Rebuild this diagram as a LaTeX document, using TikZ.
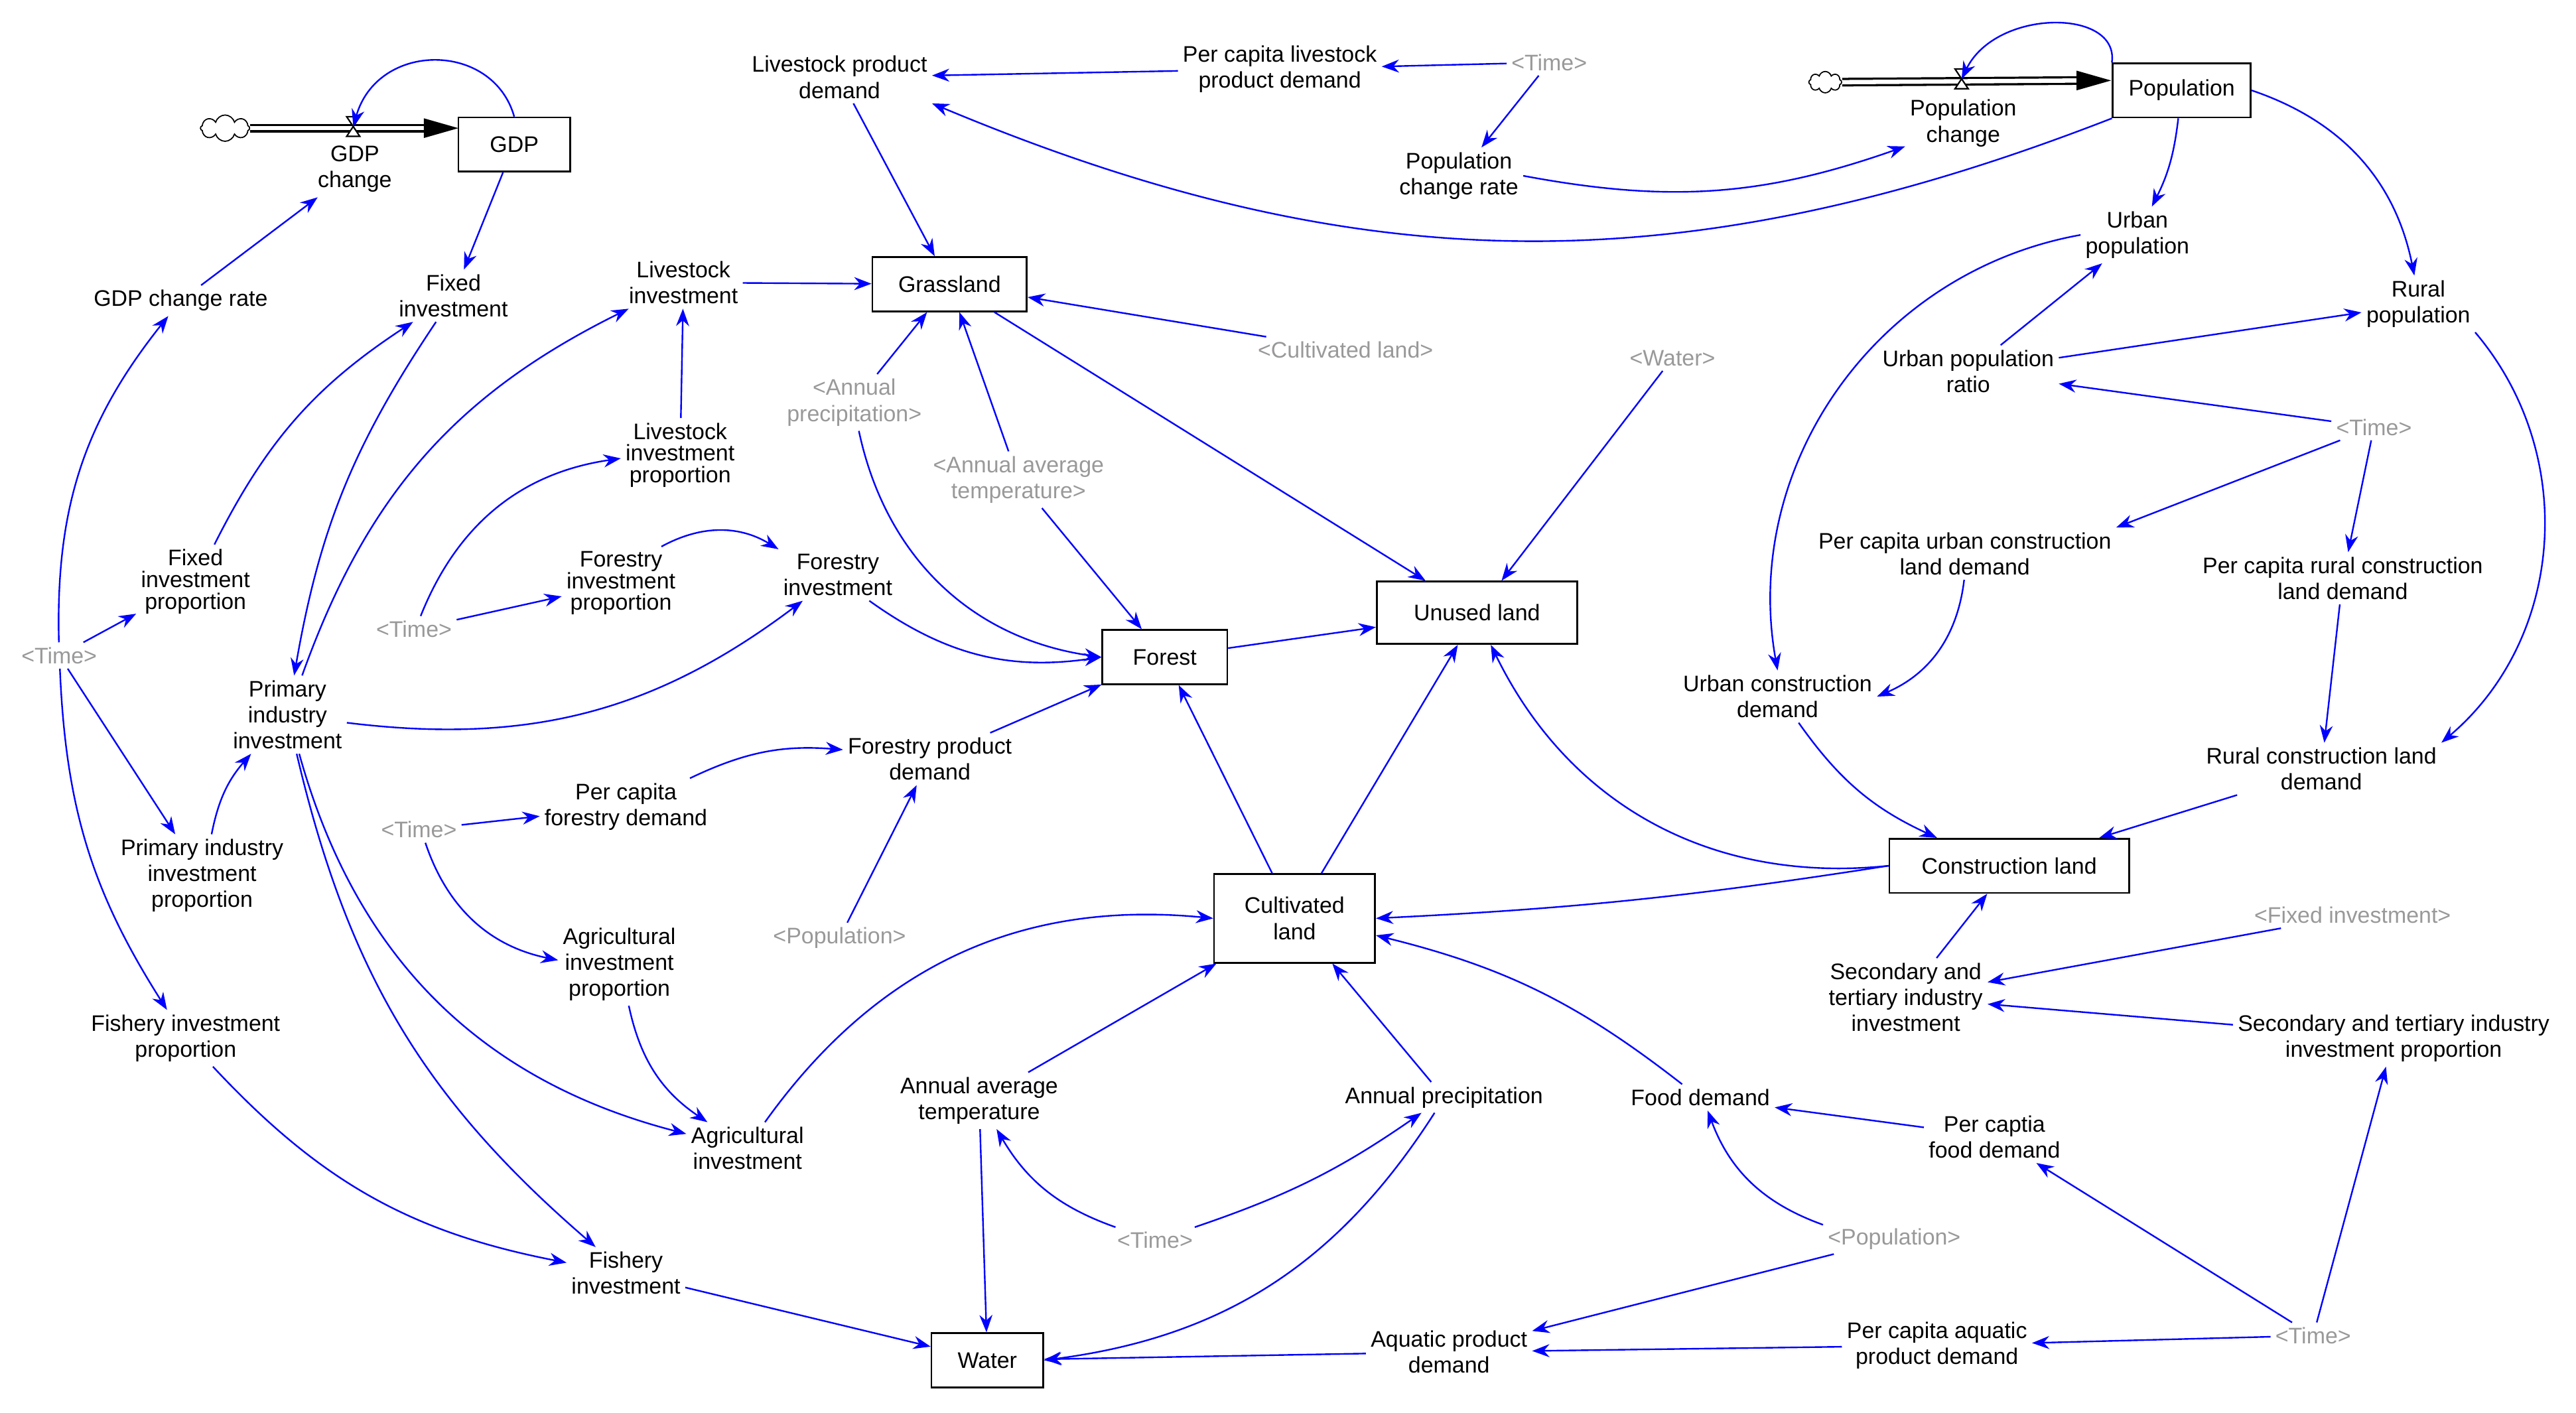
\documentclass[tikz,border=0pt]{standalone}
\usepackage{fontspec}
\setmainfont{Liberation Sans}
\usetikzlibrary{arrows.meta,shapes.symbols}
\begin{document}
\begin{tikzpicture}[x=0.02cm,y=0.02cm,
 v/.style={align=center,inner sep=1.5pt,font=\fontsize{7.8}{9}\selectfont},
 g/.style={v,text=black!40},
 st/.style={draw,line width=0.6pt,minimum height=0.66cm,inner sep=2pt,align=center,font=\fontsize{7.8}{9}\selectfont},
 a/.style={draw=blue,line width=0.55pt,-{Stealth[length=6pt,width=4.5pt]}},
 pipe/.style={line width=3pt,black},
 pipein/.style={line width=1.5pt,white}]
\useasboundingbox (0,0) rectangle (1568,-860);
% stocks
\node[st,minimum width=1.36cm] (gdp) at (313,-88) {GDP};
\node[st,minimum width=1.68cm] (pop) at (1328,-55) {Population};
\node[st,minimum width=1.88cm] (grass) at (578,-173) {Grassland};
\node[st,minimum width=2.44cm,minimum height=0.76cm] (unused) at (899,-373) {Unused land};
\node[st,minimum width=1.52cm] (forest) at (709,-400) {Forest};
\node[st,minimum width=1.96cm,minimum height=1.08cm] (cult) at (788,-559) {Cultivated\\land};
\node[st,minimum width=2.92cm] (cons) at (1223,-527) {Construction land};
\node[st,minimum width=1.36cm] (water) at (601,-828) {Water};
% flows
\node[cloud,draw,cloud puffs=8,minimum width=0.6cm,minimum height=0.32cm,inner sep=0pt,fill=white] (cl1) at (137,-78) {};
\draw[pipe] (cl1.east) -- (262,-78);
\draw[pipein] (cl1.east) -- (258,-78);
\fill (258,-72) -- (279,-78) -- (258,-84) -- cycle;
\coordinate (valve1) at (215,-77);
\draw[fill=white,line width=0.5pt] (211,-71)--(219,-71)--(211,-83)--(219,-83)--cycle;
\node[v] (gdpch) at (216,-103) {GDP\\change};
\node[cloud,draw,cloud puffs=8,minimum width=0.4cm,minimum height=0.26cm,inner sep=0pt,fill=white] (cl2) at (1111,-50) {};
\draw[pipe] (cl2.east) -- (1268,-49);
\draw[pipein] (cl2.east) -- (1264,-49);
\fill (1264,-43) -- (1285,-49) -- (1264,-55) -- cycle;
\coordinate (valve2) at (1194,-48);
\draw[fill=white,line width=0.5pt] (1190,-42)--(1198,-42)--(1190,-54)--(1198,-54)--cycle;
\node[v] (popch) at (1195,-75) {Population\\change};
% variables
\node[v] (gdprate) at (110,-183) {GDP change rate};
\node[v] (fixinv) at (276,-180) {Fixed\\investment};
\node[v] (lpd) at (511,-47) {Livestock product\\demand};
\node[v] (pclpd) at (779,-42) {Per capita livestock\\product demand};
\node[g] (t1) at (943,-38) {<Time>};
\node[v] (pcr) at (888,-107) {Population\\change rate};
\node[v] (linv) at (416,-172) {Livestock\\investment};
\node[v,font=\fontsize{7.8}{7.5}\selectfont] (linvp) at (414,-277) {Livestock\\investment\\proportion};
\node[g] (gap) at (520,-245) {<Annual\\precipitation>};
\node[g] (gat) at (620,-292) {<Annual average\\temperature>};
\node[g] (gcl) at (819,-213) {<Cultivated land>};
\node[g] (gw) at (1018,-218) {<Water>};
\node[v] (upop) at (1301,-143) {Urban\\population};
\node[v] (rpop) at (1472,-185) {Rural\\population};
\node[v] (upr) at (1198,-226) {Urban population\\ratio};
\node[g] (t2) at (1445,-260) {<Time>};
\node[v] (pcu) at (1196,-337) {Per capita urban construction\\land demand};
\node[v] (pcrl) at (1426,-352) {Per capita rural construction\\land demand};
\node[v] (ucd) at (1082,-424) {Urban construction\\demand};
\node[v] (rcd) at (1413,-468) {Rural construction land\\demand};
\node[v,font=\fontsize{7.8}{7.5}\selectfont] (fip) at (119,-354) {Fixed\\investment\\proportion};
\node[g] (t3) at (36,-399) {<Time>};
\node[g] (t4) at (252,-383) {<Time>};
\node[v,font=\fontsize{7.8}{7.5}\selectfont] (fop) at (378,-355) {Forestry\\investment\\proportion};
\node[v] (finv) at (510,-350) {Forestry\\investment};
\node[v] (pii) at (175,-435) {Primary\\industry\\investment};
\node[v] (pcfd) at (381,-491) {Per capita\\forestry demand};
\node[g] (t5) at (255,-505) {<Time>};
\node[v] (fpd) at (566,-462) {Forestry product\\demand};
\node[v] (piip) at (123,-533) {Primary industry\\investment\\proportion};
\node[v] (aip) at (377,-587) {Agricultural\\investment\\proportion};
\node[g] (gp1) at (511,-571) {<Population>};
\node[v] (fishp) at (113,-632) {Fishery investment\\proportion};
\node[v] (ainv) at (455,-699) {Agricultural\\investment};
\node[v] (aat) at (596,-670) {Annual average\\temperature};
\node[v] (ap) at (879,-668) {Annual precipitation};
\node[v] (fd) at (1035,-668) {Food demand};
\node[v] (pcfood) at (1214,-692) {Per captia\\food demand};
\node[g] (gfi) at (1432,-557) {<Fixed investment>};
\node[v] (sti) at (1160,-607) {Secondary and\\tertiary industry\\investment};
\node[v] (stip) at (1457,-632) {Secondary and tertiary industry\\investment proportion};
\node[g] (gp2) at (1153,-754) {<Population>};
\node[g] (t6) at (703,-755) {<Time>};
\node[v] (fishinv) at (381,-775) {Fishery\\investment};
\node[v] (apd) at (882,-823) {Aquatic product\\demand};
\node[v] (pcapd) at (1179,-819) {Per capita aquatic\\product demand};
\node[g] (t7) at (1408,-813) {<Time>};
% connectors
\draw[a] (gdprate) -- (gdpch);
\draw[a] (gdp.north) .. controls (300,-25) and (230,-25) .. (valve1);
\draw[a] (gdp) -- (fixinv);
\draw[a] (fixinv) to[bend right=12] (pii);
\draw[a] (fip) to[bend left=15] (fixinv);
\draw[a] (t3) to[bend left=20] (gdprate);
\draw[a] (t3) -- (fip);
\draw[a] (t3) -- (piip);
\draw[a] (t3) to[bend right=15] (fishp);
\draw[a] (piip) to[bend left=15] (pii);
\draw[a] (pii) to[bend left=22] (linv);
\draw[a] (pii) to[bend right=22] (finv);
\draw[a] (pii) to[bend right=30] (ainv);
\draw[a] (pii) to[bend right=18] (fishinv);
\draw[a] (fishp) to[bend right=18] (fishinv);
\draw[a] (linv) -- (grass);
\draw[a] (linvp) -- (linv);
\draw[a] (lpd) -- (grass);
\draw[a] (pclpd) -- (lpd);
\draw[a] (t1) -- (pclpd);
\draw[a] (t1) -- (pcr);
\draw[a] (pcr.east) to[bend right=15] (popch);
\draw[a] (pop.south west) to[bend left=22] (lpd.south east);
\draw[a] (pop.north west) .. controls (1290,-5) and (1215,-5) .. (valve2);
\draw[a] (pop) to[bend left=10] (upop);
\draw[a] (pop.east) to[bend left=30] (rpop);
\draw[a] (upr) -- (upop);
\draw[a] (upr) -- (rpop);
\draw[a] (t2) -- (upr);
\draw[a] (t2) -- (pcu.north east);
\draw[a] (t2) -- (pcrl);
\draw[a] (pcu) to[bend left=30] (ucd.east);
\draw[a] (upop.west) to[bend right=45] (ucd.north);
\draw[a] (rpop.south east) to[bend left=45] (rcd.north east);
\draw[a] (pcrl) -- (rcd);
\draw[a] (ucd) to[bend right=15] (cons);
\draw[a] (rcd) -- (cons);
\draw[a] (cons.west) to[bend left=3] (cult.east);
\draw[a] (cons.west) to[bend left=35] (unused);
\draw[a] (sti) -- (cons);
\draw[a] (gfi) -- (sti);
\draw[a] (stip) -- (sti);
\draw[a] (grass) -- (unused);
\draw[a] (gcl) -- (grass);
\draw[a] (gw) -- (unused);
\draw[a] (gap) -- (grass);
\draw[a] (gap) to[bend right=35] (forest.west);
\draw[a] (gat) -- (grass);
\draw[a] (gat) -- (forest);
\draw[a] (forest) -- (unused);
\draw[a] (fop) to[bend left=30] (finv.north west);
\draw[a] (t4) to[bend left=30] (linvp);
\draw[a] (t4) -- (fop);
\draw[a] (finv) to[bend right=22] (forest.west);
\draw[a] (fpd) -- (forest);
\draw[a] (pcfd) to[bend left=15] (fpd);
\draw[a] (t5) -- (pcfd);
\draw[a] (t5) to[bend right=30] (aip);
\draw[a] (gp1) -- (fpd);
\draw[a] (aip) to[bend right=22] (ainv);
\draw[a] (ainv) to[bend left=30] (cult.west);
\draw[a] (cult) -- (forest);
\draw[a] (cult) -- (unused);
\draw[a] (aat) -- (cult);
\draw[a] (aat) -- (water);
\draw[a] (ap) -- (cult);
\draw[a] (ap) to[bend left=25] (water.east);
\draw[a] (fd) to[bend right=12] (cult);
\draw[a] (t6) to[bend left=20] (aat);
\draw[a] (t6) to[bend right=8] (ap);
\draw[a] (fishinv) -- (water);
\draw[a] (apd) -- (water);
\draw[a] (pcapd) -- (apd);
\draw[a] (gp2) -- (apd);
\draw[a] (gp2) to[bend left=25] (fd);
\draw[a] (pcfood) -- (fd);
\draw[a] (t7) -- (pcfood);
\draw[a] (t7) -- (pcapd);
\draw[a] (t7) -- (stip);
\end{tikzpicture}
\end{document}
